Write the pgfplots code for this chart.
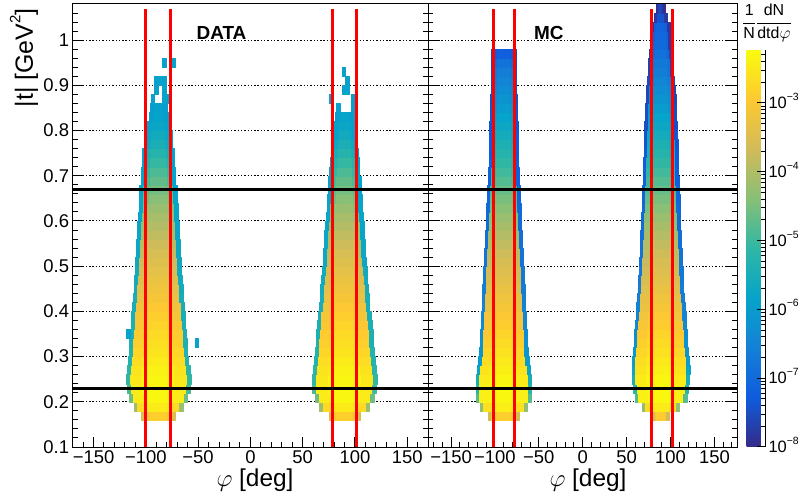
\documentclass[border=0pt]{standalone}
\usepackage{fontspec}
\setmainfont{Liberation Sans}
\usepackage{pgfplots}
\pgfplotsset{compat=1.18}
\usepgfplotslibrary{patchplots}

% one row of a peak: t(lower edge)/half-width/centre value/shoulder value/edge value (log10)
\newcommand\buildpeak[3]{%
  \gdef#1{}%
  \foreach \tA/\hw/\vc/\vs/\ve in {#3} {%
    \pgfmathsetmacro\tB{\tA+0.02}%
    \pgfmathsetmacro\xa{#2-\hw}%
    \pgfmathsetmacro\xb{#2-\hw+3.6}%
    \pgfmathsetmacro\xc{#2-0.5*\hw}%
    \pgfmathsetmacro\xd{#2+0.5*\hw}%
    \pgfmathsetmacro\xe{#2+\hw-3.6}%
    \pgfmathsetmacro\xf{#2+\hw}%
    \xdef#1{#1
      (\xa,\tA)[\ve] (\xb,\tA)[\ve] (\xb,\tB)[\ve] (\xa,\tB)[\ve]
      (\xb,\tA)[\vs] (\xc,\tA)[\vs] (\xc,\tB)[\vs] (\xb,\tB)[\vs]
      (\xc,\tA)[\vc] (\xd,\tA)[\vc] (\xd,\tB)[\vc] (\xc,\tB)[\vc]
      (\xd,\tA)[\vs] (\xe,\tA)[\vs] (\xe,\tB)[\vs] (\xd,\tB)[\vs]
      (\xe,\tA)[\ve] (\xf,\tA)[\ve] (\xf,\tB)[\ve] (\xe,\tB)[\ve]}%
  }%
}
% isolated cells: phi(left edge)/t(lower edge)/value
\newcommand\buildcells[2]{%
  \gdef#1{}%
  \foreach \xa/\tA/\vc in {#2} {%
    \pgfmathsetmacro\xb{\xa+3.6}%
    \pgfmathsetmacro\tB{\tA+0.02}%
    \xdef#1{#1 (\xa,\tA)[\vc] (\xb,\tA)[\vc] (\xb,\tB)[\vc] (\xa,\tB)[\vc]}%
  }%
}
\newcommand\plothist[1]{\expandafter\plothistA\expandafter{#1}}
\newcommand\plothistA[1]{\addplot[hist] coordinates {#1};}

% ---------------- DATA ----------------
\buildpeak\pkDL{-88}{
0.16/16.5/-2.85/-3.0/-3.5, 0.18/23.5/-2.45/-2.7/-4.2, 0.20/28/-2.3/-2.45/-4.6,
0.22/30/-2.28/-2.45/-4.9, 0.24/31/-2.3/-2.5/-5.1, 0.26/30/-2.35/-2.55/-5.2,
0.28/29/-2.45/-2.65/-5.3, 0.30/28/-2.55/-2.75/-5.3, 0.32/27.5/-2.62/-2.85/-5.4,
0.34/27/-2.7/-2.9/-5.4, 0.36/26/-2.78/-3.0/-5.4, 0.38/25.5/-2.87/-3.08/-5.5,
0.40/25/-2.96/-3.17/-5.5, 0.42/24/-3.06/-3.27/-5.5, 0.44/23.5/-3.16/-3.37/-5.6,
0.46/23/-3.26/-3.47/-5.6, 0.48/22/-3.36/-3.57/-5.6, 0.50/22/-3.47/-3.68/-5.7,
0.52/21/-3.58/-3.8/-5.7, 0.54/21/-3.7/-3.92/-5.7, 0.56/20/-3.82/-4.04/-5.8,
0.58/20/-3.95/-4.16/-5.8, 0.60/19/-4.08/-4.3/-5.8, 0.62/18.5/-4.22/-4.44/-5.8,
0.64/18/-4.37/-4.58/-5.8, 0.66/18/-4.53/-4.74/-5.85, 0.68/16.5/-4.7/-4.9/-5.85,
0.70/16.5/-4.88/-5.08/-5.85, 0.72/15/-5.06/-5.26/-5.9, 0.74/15/-5.25/-5.45/-5.9,
0.76/13.5/-5.45/-5.62/-5.9, 0.78/13.5/-5.6/-5.75/-5.9, 0.80/11/-5.75/-5.85/-5.9,
0.82/9/-5.85/-5.9/-5.95, 0.84/8/-5.9/-5.9/-5.95}
\buildpeak\pkDR{90}{
0.16/15/-2.85/-3.0/-3.5, 0.18/24/-2.45/-2.7/-4.2, 0.20/28/-2.3/-2.45/-4.6,
0.22/30.5/-2.28/-2.45/-4.9, 0.24/31/-2.3/-2.5/-5.1, 0.26/30/-2.35/-2.55/-5.2,
0.28/29/-2.45/-2.65/-5.3, 0.30/28/-2.55/-2.75/-5.3, 0.32/27.5/-2.62/-2.85/-5.4,
0.34/27/-2.7/-2.9/-5.4, 0.36/26/-2.78/-3.0/-5.4, 0.38/25.5/-2.87/-3.08/-5.5,
0.40/24/-2.96/-3.17/-5.5, 0.42/23.5/-3.06/-3.27/-5.5, 0.44/23/-3.16/-3.37/-5.6,
0.46/22/-3.26/-3.47/-5.6, 0.48/21.5/-3.36/-3.57/-5.6, 0.50/20.5/-3.47/-3.68/-5.7,
0.52/20/-3.58/-3.8/-5.7, 0.54/19.5/-3.7/-3.92/-5.7, 0.56/19/-3.82/-4.04/-5.8,
0.58/18.5/-3.95/-4.16/-5.8, 0.60/17.5/-4.08/-4.3/-5.8, 0.62/17/-4.22/-4.44/-5.8,
0.64/16.5/-4.37/-4.58/-5.8, 0.66/16/-4.53/-4.74/-5.85, 0.68/15.5/-4.7/-4.9/-5.85,
0.70/14.5/-4.88/-5.08/-5.85, 0.72/14/-5.06/-5.26/-5.9, 0.74/13/-5.25/-5.45/-5.9,
0.76/12.5/-5.45/-5.62/-5.9, 0.78/10.5/-5.6/-5.75/-5.9, 0.80/10/-5.75/-5.85/-5.9,
0.82/9/-5.85/-5.9/-5.95}
\buildcells\clDL{
-95.2/0.86/-5.9, -84.4/0.86/-5.85, -80.8/0.86/-5.9,
-91.6/0.88/-5.9, -84.4/0.88/-5.85,
-91.6/0.90/-5.9, -88/0.90/-5.85, -84.4/0.90/-5.9,
-84.4/0.94/-5.9, -75.4/0.94/-5.9,
-53.2/0.32/-5.9, -119/0.34/-5.9}
\buildcells\clDR{
87.3/0.92/-5.9, 90.9/0.90/-5.9, 90.9/0.88/-5.85, 87.3/0.88/-5.9,
96.5/0.86/-5.9, 75/0.86/-5.9, 96.5/0.84/-5.9, 82/0.84/-5.9}
% ---------------- MC ----------------
\buildpeak\pkML{-90}{
0.16/18/-2.85/-3.0/-3.6, 0.18/27/-2.4/-2.6/-4.3, 0.20/31.5/-2.28/-2.4/-4.8,
0.22/31.5/-2.26/-2.4/-5.2, 0.24/31/-2.3/-2.45/-5.5, 0.26/30/-2.38/-2.55/-5.8,
0.28/28.5/-2.48/-2.65/-6.0, 0.30/27.5/-2.58/-2.75/-6.1, 0.32/27/-2.68/-2.85/-6.2,
0.34/26.5/-2.78/-2.95/-6.3, 0.36/26/-2.88/-3.05/-6.4, 0.38/25.5/-2.98/-3.15/-6.5,
0.40/25/-3.08/-3.25/-6.5, 0.42/24.5/-3.18/-3.35/-6.6, 0.44/24/-3.28/-3.45/-6.6,
0.46/23.5/-3.38/-3.55/-6.7, 0.48/23/-3.48/-3.65/-6.7, 0.50/22.5/-3.58/-3.75/-6.8,
0.52/22/-3.7/-3.85/-6.8, 0.54/21.5/-3.82/-3.97/-6.9, 0.56/21/-3.95/-4.1/-6.9,
0.58/20.5/-4.08/-4.23/-7.0, 0.60/20/-4.22/-4.37/-7.0, 0.62/19.5/-4.36/-4.5/-7.0,
0.64/19/-4.5/-4.65/-7.1, 0.66/18.5/-4.65/-4.8/-7.1, 0.68/18/-4.8/-4.95/-7.2,
0.70/17.5/-4.95/-5.1/-7.2, 0.72/17/-5.1/-5.25/-7.2, 0.74/17/-5.25/-5.4/-7.3,
0.76/16.5/-5.4/-5.55/-7.3, 0.78/16/-5.55/-5.7/-7.3, 0.80/16/-5.7/-5.85/-7.4,
0.82/15.5/-5.85/-6.0/-7.4, 0.84/15/-6.0/-6.15/-7.4, 0.86/15/-6.15/-6.3/-7.5,
0.88/14.5/-6.3/-6.45/-7.5, 0.90/14/-6.45/-6.6/-7.5, 0.92/14/-6.6/-6.75/-7.5,
0.94/14/-6.8/-6.95/-7.6, 0.96/14/-7.2/-7.3/-7.6}
\buildpeak\pkMR{89}{
0.16/9.5/-2.9/-3.1/-3.6, 0.18/21/-2.45/-2.65/-4.3, 0.20/29.5/-2.28/-2.4/-4.8,
0.22/31/-2.26/-2.4/-5.2, 0.24/32.5/-2.3/-2.45/-5.5, 0.26/33/-2.38/-2.55/-5.8,
0.28/32.5/-2.48/-2.65/-6.0, 0.30/31.5/-2.58/-2.75/-6.1, 0.32/30.5/-2.68/-2.85/-6.2,
0.34/30/-2.78/-2.95/-6.3, 0.36/29/-2.88/-3.05/-6.4, 0.38/28.5/-2.98/-3.15/-6.5,
0.40/27.5/-3.08/-3.25/-6.5, 0.42/27/-3.18/-3.35/-6.6, 0.44/26/-3.28/-3.45/-6.6,
0.46/25.5/-3.38/-3.55/-6.7, 0.48/25/-3.48/-3.65/-6.7, 0.50/24.5/-3.58/-3.75/-6.8,
0.52/24/-3.7/-3.85/-6.8, 0.54/23.5/-3.82/-3.97/-6.9, 0.56/23/-3.95/-4.1/-6.9,
0.58/22.5/-4.08/-4.23/-7.0, 0.60/22/-4.22/-4.37/-7.0, 0.62/21.5/-4.36/-4.5/-7.0,
0.64/21.5/-4.5/-4.65/-7.1, 0.66/21/-4.65/-4.8/-7.1, 0.68/20.5/-4.8/-4.95/-7.2,
0.70/20.3/-4.95/-5.1/-7.2, 0.72/20/-5.1/-5.25/-7.3, 0.74/19.5/-5.25/-5.4/-7.3,
0.76/19.4/-5.4/-5.55/-7.4, 0.78/19/-5.55/-5.7/-7.4, 0.80/18.5/-5.7/-5.85/-7.5,
0.82/18/-5.85/-6.0/-7.5, 0.84/17.5/-6.0/-6.15/-7.5, 0.86/17/-6.15/-6.3/-7.6,
0.88/16.5/-6.3/-6.45/-7.6, 0.90/15.5/-6.45/-6.6/-7.6, 0.92/14.5/-6.6/-6.75/-7.7,
0.94/14/-6.7/-6.85/-7.7, 0.96/13/-6.85/-7.0/-7.7, 0.98/12/-7.0/-7.1/-7.8,
1.00/12/-7.05/-7.15/-7.8, 1.02/11/-7.1/-7.2/-7.8, 1.04/7.6/-7.4/-7.5/-7.8,
1.06/5.4/-7.6/-7.7/-7.9}

\newcommand\supx[1]{\raisebox{0.5em}[0pt][0pt]{\fontsize{10.5}{10.5}\selectfont #1}}

\pgfplotsset{
  hist/.style={patch, patch type=rectangle, shader=flat, point meta=explicit},
  rootax/.style={
    scale only axis, height=443bp, ymin=0.1, ymax=1.08,
    axis line style={line width=1bp},
    tick align=inside, xtick pos=bottom, ytick pos=both,
    xtick={-150,-100,-50,0,50,100,150},
    xticklabels={−150,−100,−50,0,50,100,150},
    minor xtick={-170,-160,...,170},
    ytick={0.1,0.2,0.3,0.4,0.5,0.6,0.7,0.8,0.9,1.0},
    minor ytick={0.12,0.14,...,1.08},
    major tick length=10bp, minor tick length=5bp,
    every tick/.style={black, line width=1bp},
    ymajorgrids,
    major grid style={black, line width=1bp, dash pattern=on 1.4bp off 1.9bp},
    tick label style={font=\fontsize{18.5}{18.5}\selectfont},
    colormap={bird}{rgb=(0.2082,0.1664,0.5293) rgb=(0.0592,0.3599,0.8684)
      rgb=(0.078,0.5041,0.8385) rgb=(0.0232,0.6419,0.7914) rgb=(0.1802,0.7178,0.6425)
      rgb=(0.5301,0.7492,0.4662) rgb=(0.8186,0.7328,0.3499) rgb=(0.9956,0.7862,0.1968)
      rgb=(0.9764,0.9832,0.0539)},
    point meta min=-8, point meta max=-2.23,
  },
  redcut/.style={no marks, color=red, line width=3.3bp},
  blackcut/.style={no marks, color=black, line width=3bp},
}

\begin{document}
\begin{tikzpicture}
\useasboundingbox (0,0) rectangle (801bp,500bp);
\begin{axis}[rootax, at={(72.6bp,53bp)}, anchor=south west, width=355.6bp,
  xmin=-170, xmax=170,
  yticklabels={0.1,0.2,0.3,0.4,0.5,0.6,0.7,0.8,0.9,1}]
\plothist\pkDL
\plothist\pkDR
\plothist\clDL
\plothist\clDR
\addplot[redcut] coordinates {(-100,0.1) (-100,1.07)};
\addplot[redcut] coordinates {(-76.2,0.1) (-76.2,1.07)};
\addplot[redcut] coordinates {(78.5,0.1) (78.5,1.07)};
\addplot[redcut] coordinates {(101.7,0.1) (101.7,1.07)};
\addplot[blackcut] coordinates {(-170,0.23) (170,0.23)};
\addplot[blackcut] coordinates {(-170,0.67) (170,0.67)};
\end{axis}
\begin{axis}[rootax, at={(428.2bp,53bp)}, anchor=south west, width=309bp,
  xmin=-176, xmax=176, yticklabels={},
  colorbar,
  colorbar style={
    at={(parent axis.south east)}, anchor=south west, xshift=0.8bp,
    scale only axis, width=18.5bp, height=397bp,
    axis x line=none, axis y line*=right,
    tick align=inside,
    ytick={-8,-7,-6,-5,-4,-3},
    yticklabels={10\supx{−8},10\supx{−7},10\supx{−6},10\supx{−5},10\supx{−4},10\supx{−3}},
    minor ytick={-7.699,-7.523,-7.398,-7.301,-7.222,-7.155,-7.097,-7.046,
      -6.699,-6.523,-6.398,-6.301,-6.222,-6.155,-6.097,-6.046,
      -5.699,-5.523,-5.398,-5.301,-5.222,-5.155,-5.097,-5.046,
      -4.699,-4.523,-4.398,-4.301,-4.222,-4.155,-4.097,-4.046,
      -3.699,-3.523,-3.398,-3.301,-3.222,-3.155,-3.097,-3.046,
      -2.699,-2.523,-2.398,-2.301},
    major tick length=8bp, minor tick length=4bp,
    every tick/.style={black, line width=1bp},
    axis line style={line width=1bp},
    yticklabel style={font=\fontsize{16.5}{16.5}\selectfont},
  }]
\plothist\pkML
\plothist\pkMR
\addplot[redcut] coordinates {(-102,0.1) (-102,1.07)};
\addplot[redcut] coordinates {(-78,0.1) (-78,1.07)};
\addplot[redcut] coordinates {(78,0.1) (78,1.07)};
\addplot[redcut] coordinates {(102,0.1) (102,1.07)};
\addplot[blackcut] coordinates {(-176,0.23) (176,0.23)};
\addplot[blackcut] coordinates {(-176,0.67) (176,0.67)};
\end{axis}
\node[font=\bfseries\fontsize{19}{19}\selectfont] at (221.5bp,467bp) {DATA};
\node[font=\bfseries\fontsize{19}{19}\selectfont] at (548.8bp,467bp) {MC};
\node[rotate=90, anchor=east, font=\fontsize{25}{25}\selectfont] at (24bp,495bp)
  {|t| [GeV\raisebox{0.5em}{\fontsize{15}{15}\selectfont 2}]};
\node[inner sep=0pt, font=\fontsize{24.5}{24.5}\selectfont] at (255bp,19.5bp) {$\varphi$ [deg]};
\node[inner sep=0pt, font=\fontsize{24.5}{24.5}\selectfont] at (588bp,19.5bp) {$\varphi$ [deg]};
\node[font=\fontsize{16}{16}\selectfont] at (767bp,477bp)
  {$\displaystyle\frac{\mbox{1}}{\mbox{N}}\frac{\mbox{dN}}{\mbox{dtd}\varphi}$};
\end{tikzpicture}
\end{document}
